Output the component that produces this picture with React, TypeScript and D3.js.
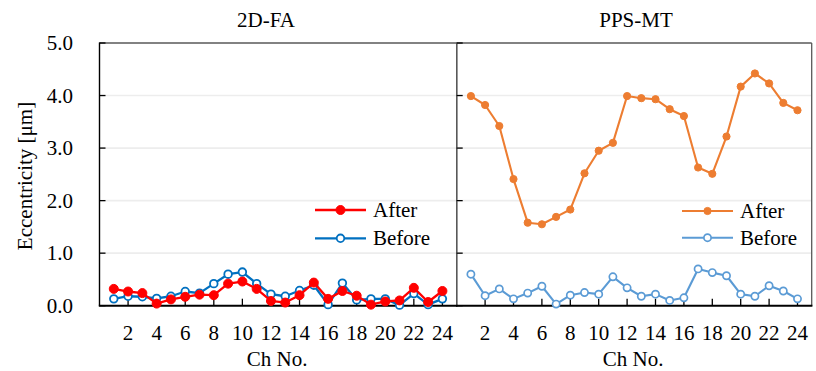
import React from "react";
import * as d3 from "d3";

const channels = d3.range(1, 25);
const fa2dAfter = [0.32, 0.27, 0.24, 0.04, 0.12, 0.17, 0.21, 0.2, 0.42, 0.46, 0.32, 0.09, 0.06, 0.2, 0.44, 0.13, 0.28, 0.19, 0.02, 0.08, 0.1, 0.34, 0.07, 0.28];
const fa2dBefore = [0.13, 0.18, 0.17, 0.14, 0.18, 0.27, 0.24, 0.42, 0.6, 0.64, 0.42, 0.22, 0.18, 0.29, 0.39, 0.02, 0.43, 0.11, 0.13, 0.13, 0.01, 0.23, 0.02, 0.13];
const ppsAfter = [3.99, 3.82, 3.42, 2.41, 1.58, 1.55, 1.69, 1.83, 2.52, 2.95, 3.1, 3.99, 3.95, 3.93, 3.74, 3.61, 2.63, 2.51, 3.22, 4.17, 4.42, 4.23, 3.86, 3.72];
const ppsBefore = [0.6, 0.19, 0.32, 0.13, 0.24, 0.37, 0.03, 0.2, 0.25, 0.22, 0.55, 0.34, 0.18, 0.22, 0.1, 0.15, 0.7, 0.63, 0.57, 0.22, 0.18, 0.38, 0.28, 0.13];
const yTicks = [0, 1, 2, 3, 4, 5];
const xTicks = d3.range(2, 25, 2);
const panelTitles = ["2D-FA", "PPS-MT"];
const legendLabels = ["After", "Before"];
const yTitle = "Eccentricity [μm]";
const xTitle = "Ch No.";

const FONT = "'Times New Roman', 'Liberation Serif', Tinos, 'DejaVu Serif', 'Noto Serif', serif";
const txt = { fontFamily: FONT, fontSize: "21px" };

type Series = { values: number[]; color: string; filled: boolean; r: number; sw: number; msw: number };

function Panel(props: {
  x0: number; x1: number; title: string; titleX: number; series: Series[]; legendX: number; legendY: number[]; showYLabels: boolean; leftAxisColor: string;
}) {
  const { x0, x1, title, titleX, series, legendX, legendY, showYLabels, leftAxisColor } = props;
  const x = d3.scaleLinear().domain([0, 25]).range([x0, x1]);
  const y = d3.scaleLinear().domain([0, 5]).range([305.7, 43]);
  const line = d3.line<number>().x((_, i) => x(channels[i])).y((d) => y(d));
  return (
    <g>
      {yTicks.slice(1, 5).map((t) => (
        <line key={"g" + t} x1={x0} x2={x1} y1={y(t)} y2={y(t)} stroke="#EDEDED" strokeWidth={1.6} />
      ))}
      <line x1={x0} x2={x1} y1={y(5)} y2={y(5)} stroke="#595959" strokeWidth={1.3} />
      <line x1={x1} x2={x1} y1={y(5)} y2={y(0)} stroke="#595959" strokeWidth={1.3} />
      <line x1={x0} x2={x0} y1={y(5) - 0.6} y2={y(0)} stroke={leftAxisColor} strokeWidth={1.4} />
      {yTicks.map((t) => (
        <line key={"yt" + t} x1={x0} x2={x0 + 6} y1={y(t)} y2={y(t)} stroke="#000" strokeWidth={1.3} />
      ))}
      {xTicks.map((t) => (
        <line key={"xt" + t} x1={x(t)} x2={x(t)} y1={y(0)} y2={y(0) - 7} stroke="#000" strokeWidth={1.3} />
      ))}
      <line x1={x0 - 0.7} x2={x1 + 0.7} y1={y(0)} y2={y(0)} stroke="#000" strokeWidth={2} />
      {showYLabels &&
        yTicks.map((t) => (
          <text key={"yl" + t} x={73} y={y(t)} textAnchor="end" dominantBaseline="central" style={txt} fill="#000">
            {t.toFixed(1)}
          </text>
        ))}
      {xTicks.map((t) => (
        <text key={"xl" + t} x={x(t)} y={333} textAnchor="middle" dominantBaseline="central" style={txt} fill="#000">
          {t}
        </text>
      ))}
      <text x={(x0 + x1) / 2 - 1} y={359} textAnchor="middle" dominantBaseline="central" style={txt} fill="#000">
        {xTitle}
      </text>
      <text x={titleX} y={20} textAnchor="middle" dominantBaseline="central" style={txt} fill="#000">
        {title}
      </text>
      {series.map((s, si) => (
        <g key={"s" + si}>
          <path d={line(s.values) || ""} fill="none" stroke={s.color} strokeWidth={s.sw} strokeLinejoin="round" />
          {s.values.map((v, i) => (
            <circle key={i} cx={x(channels[i])} cy={y(v)} r={s.r} fill={s.filled ? s.color : "#fff"} stroke={s.color} strokeWidth={s.msw} />
          ))}
        </g>
      ))}
      {[...series].reverse().map((s, i) => (
        <g key={"lg" + i}>
          <line x1={legendX} x2={legendX + 51} y1={legendY[i]} y2={legendY[i]} stroke={s.color} strokeWidth={s.sw} />
          <circle cx={legendX + 25.5} cy={legendY[i]} r={s.r} fill={s.filled ? s.color : "#fff"} stroke={s.color} strokeWidth={s.msw} />
          <text x={legendX + 58} y={legendY[i]} dominantBaseline="central" style={txt} fill="#000">
            {legendLabels[i]}
          </text>
        </g>
      ))}
    </g>
  );
}

export default function App() {
  return (
    <svg width={816} height={371} style={{ position: "absolute", left: 0, top: 0, background: "#fff" }}>
      <rect width={816} height={371} fill="#fff" />
      <text transform="translate(25,176) rotate(-90)" textAnchor="middle" dominantBaseline="central" style={txt} fill="#000">
        {yTitle}
      </text>
      <Panel
        x0={99.5}
        x1={456.7}
        title={panelTitles[0]}
        titleX={266}
        series={[
          { values: fa2dBefore, color: "#0070C0", filled: false, r: 3.8, sw: 2.3, msw: 1.8 },
          { values: fa2dAfter, color: "#FF0000", filled: true, r: 4.5, sw: 2.3, msw: 1 },
        ]}
        legendX={315}
        legendY={[210, 238.3]}
        showYLabels={true}
        leftAxisColor="#000"
      />
      <Panel
        x0={456.7}
        x1={811.7}
        title={panelTitles[1]}
        titleX={636}
        series={[
          { values: ppsBefore, color: "#5B9BD5", filled: false, r: 3.6, sw: 2.1, msw: 1.7 },
          { values: ppsAfter, color: "#ED7D31", filled: true, r: 3.6, sw: 2.1, msw: 1 },
        ]}
        legendX={682}
        legendY={[211, 237.7]}
        showYLabels={false}
        leftAxisColor="#595959"
      />
    </svg>
  );
}
